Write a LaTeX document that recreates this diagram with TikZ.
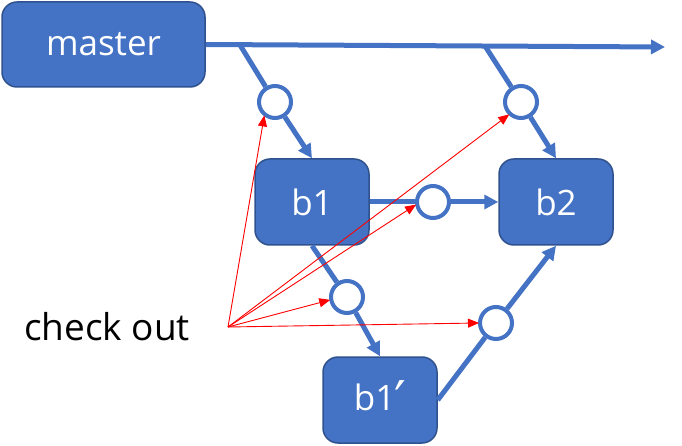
\documentclass[tikz,border=0pt]{standalone}
\usepackage{fontspec}
\setmainfont{Open Sans}
\newfontfamily\primefont{DejaVu Sans}
\usetikzlibrary{arrows.meta}
\definecolor{boxblue}{HTML}{4472C4}
\definecolor{edgeblue}{HTML}{2F528F}

\begin{document}
\begin{tikzpicture}[x=1pt,y=-1pt,
    branch/.style={draw=edgeblue,line width=1.5pt,fill=boxblue,rounded corners=15pt,
        minimum width=114pt,minimum height=86pt,text=white,font=\fontsize{35}{40}\selectfont},
    merge/.style={circle,draw=boxblue,line width=4pt,fill=white,minimum size=32pt,inner sep=0pt},
    flow/.style={draw=boxblue,line width=5pt},
    flowarrow/.style={flow,-{Triangle[length=14pt,width=14pt]}},
    pick/.style={draw=red,line width=0.9pt,-{Triangle[length=11pt,width=9pt]},shorten >=-1pt}]
    \useasboundingbox (0,0) rectangle (682,446);

    % Branch boxes
    \node[branch,minimum width=203pt,minimum height=85pt] (master) at (103.5,44.5) {master};
    \node[branch] (b1) at (312,202) {b1};
    \node[branch] (b2) at (556,202) {b2};
    \node[branch] (b1p) at (380,400) {b1\kern-1pt\raisebox{-8pt}{\primefont\fontsize{52}{52}\selectfont ′}};

    % Merge points
    \node[merge] (c1) at (275,102) {};
    \node[merge] (c2) at (521,102) {};
    \node[merge] (c3) at (433,202) {};
    \node[merge] (c4) at (347,297) {};
    \node[merge] (c5) at (496,323) {};

    % Main line
    \coordinate (tip) at (665,47);
    \coordinate (j1) at (240,45);
    \coordinate (j2) at (485,46);
    \draw[flowarrow] (master.east) -- (tip);

    % Branching and merging
    \draw[flow] (j1) -- (c1);
    \draw[flowarrow] (c1) -- (b1.north);
    \draw[flow] (j2) -- (c2);
    \draw[flowarrow] (c2) -- (b2.north);
    \draw[flow] (b1.east) -- (c3);
    \draw[flowarrow] (c3) -- (b2.west);
    \draw[flow] (b1.south) -- (c4);
    \draw[flowarrow] (c4) -- (b1p.north);
    \draw[flow] (b1p.east) -- (c5);
    \draw[flowarrow] (c5) -- (b2.south);

    % Check out arrows
    \node[font=\fontsize{37}{42}\selectfont] (checkout) at (107,327) {check out};
    \coordinate (src) at (228,327);
    \draw[pick] (src) -- (c1.233);
    \draw[pick] (src) -- (c2.226);
    \draw[pick] (src) -- (c3.190);
    \draw[pick] (src) -- (c4.190);
    \draw[pick] (src) -- (c5.west);
\end{tikzpicture}
\end{document}
